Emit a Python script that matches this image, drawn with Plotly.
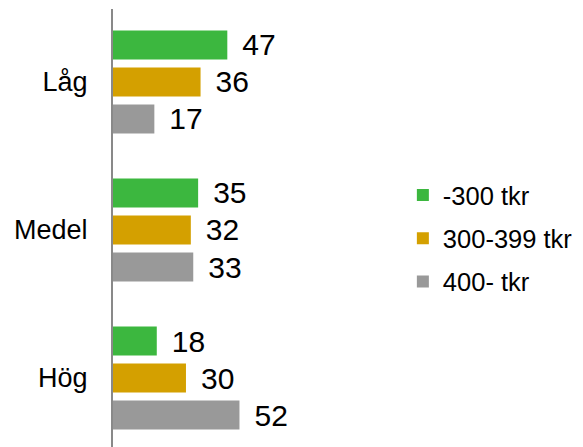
import plotly.graph_objects as go

# Data
categories = ['Låg', 'Medel', 'Hög']
series_names = ['-300 tkr', '300-399 tkr', '400- tkr']
low_income = [47, 35, 18]
mid_income = [36, 32, 30]
high_income = [17, 33, 52]

colors = ['#3CB73F', '#D4A000', '#999999']
series_values = [low_income, mid_income, high_income]

fig = go.Figure()

for name, vals, col in zip(series_names, series_values, colors):
    fig.add_trace(go.Bar(
        y=categories,
        x=vals,
        name=name,
        orientation='h',
        marker=dict(color=col, line=dict(width=0)),
        text=vals,
        texttemplate='\u2009\u2009%{x}',
        textposition='outside',
        textfont=dict(size=30, color='black'),
        constraintext='none',
        cliponaxis=False,
        legendgroup=name,
    ))

# the page body adds an 8px offset, so the figure is sized to fit inside it
fig.update_layout(
    width=575,
    height=439,
    margin=dict(l=105, r=183, t=1, b=0, autoexpand=False),
    paper_bgcolor='white',
    plot_bgcolor='white',
    font=dict(family='Arial, Liberation Sans, sans-serif', color='black'),
    barmode='group',
    bargap=0.25,
    bargroupgap=0.216,
    showlegend=True,
    legend=dict(
        x=1.01, xanchor='left',
        y=0.476, yanchor='middle',
        font=dict(size=25.5),
        tracegroupgap=7,
        bgcolor='rgba(0,0,0,0)',
    ),
    xaxis=dict(
        range=[0, 118],
        showgrid=False, zeroline=False, showline=False,
        showticklabels=False, ticks='',
    ),
    yaxis=dict(
        type='category',
        range=[2.466, -0.493],
        showgrid=False, zeroline=False,
        showline=True, linecolor='#898989', linewidth=2,
        ticks='', ticklabelstandoff=18,
        tickfont=dict(size=27, color='black'),
        automargin=False,
    ),
)

fig.write_html('out.html')
